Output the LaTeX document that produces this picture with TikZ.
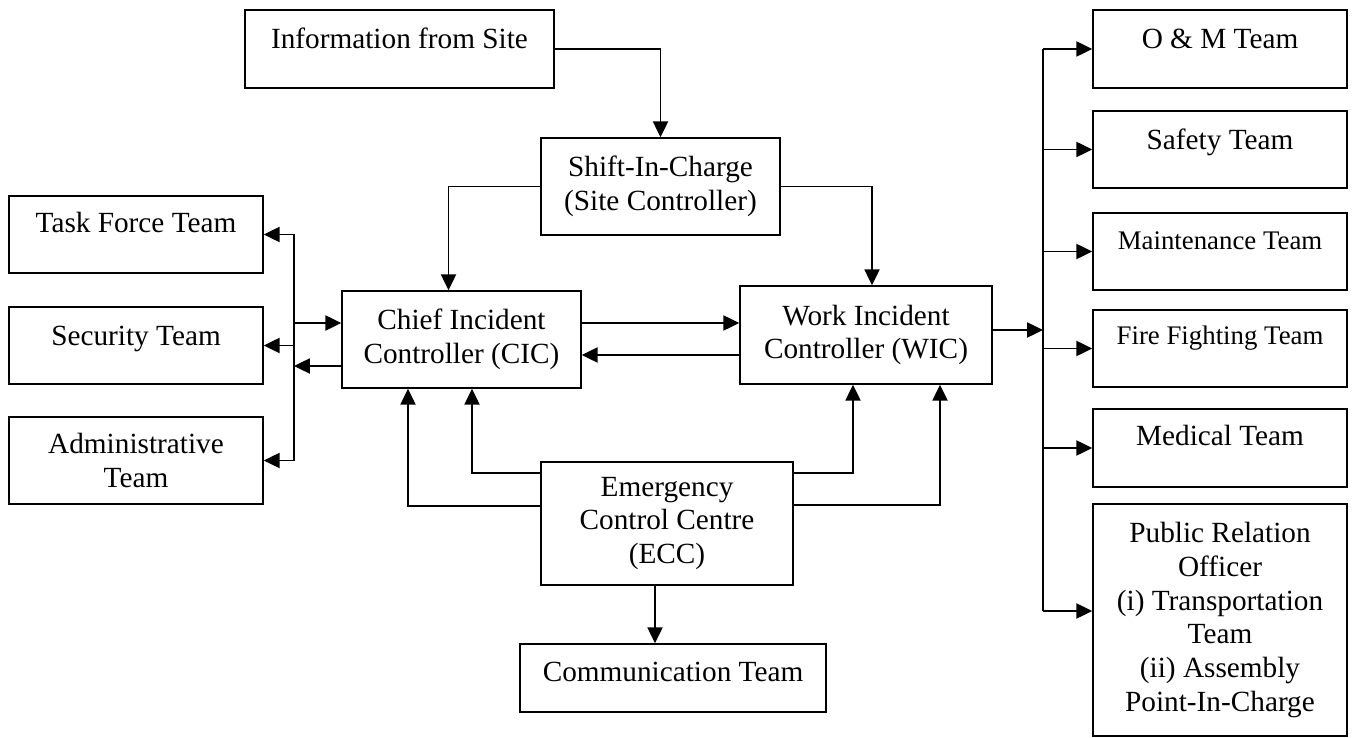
\documentclass[tikz,border=0pt]{standalone}
\usepackage{fontspec}
\setmainfont{Liberation Serif}
\usetikzlibrary{arrows.meta,calc}

\begin{document}
\begin{tikzpicture}[x=0.41pt, y=-0.41pt, line width=0.6pt,
    box/.style={draw, align=center, inner sep=1pt, font=\fontsize{12}{13.9}\selectfont},
    boxsize/.style 2 args={minimum width=#1*0.41pt, minimum height=#2*0.41pt},
    onebox/.style={box, text height=8.5pt, text depth=#1},
    onebox/.default=9pt,
    smallfont/.style={font=\fontsize{11}{13}\selectfont},
    arr/.style={-{Triangle[length=6.5pt,width=6.2pt]}}]
    \useasboundingbox (0,0) rectangle (1355,738);

    % left column
    \node[onebox=10pt, boxsize={254}{77}] (tf) at (136,234.5) {Task Force Team};
    \node[onebox=8.5pt, boxsize={254}{77}] (sec) at (136,345.5) {Security Team};
    \node[box, boxsize={254}{87}] (adm) at (136,460.5) {Administrative\\Team};

    % middle
    \node[onebox, boxsize={309}{78}] (info) at (399.5,49) {Information from Site};
    \node[box, boxsize={239}{97}] (shift) at (660.5,186.5) {Shift-In-Charge\\(Site Controller)};
    \node[box, boxsize={239}{97}] (cic) at (461.5,339.5) {Chief Incident\\Controller (CIC)};
    \node[box, boxsize={252}{98}] (wic) at (866,335) {Work Incident\\Controller (WIC)};
    \node[box, boxsize={252}{123}] (ecc) at (667,523.5) {Emergency\\Control Centre\\(ECC)};
    \node[onebox=5.6pt, boxsize={306}{68}] (comm) at (673,678) {Communication Team};

    % right column
    \node[onebox, boxsize={254}{78}] (om) at (1220,49) {O \& M Team};
    \node[onebox=8.5pt, boxsize={254}{77}] (saf) at (1220,149.5) {Safety Team};
    \node[onebox=10pt, boxsize={254}{77}, smallfont] (mnt) at (1220,251.5) {Maintenance Team};
    \node[onebox=11.5pt, boxsize={254}{77}, smallfont] (ff) at (1220,348.5) {Fire Fighting Team};
    \node[onebox=10.5pt, boxsize={254}{78}] (med) at (1220,448) {Medical Team};
    \node[box, boxsize={254}{232}] (pro) at (1220,620)
        {Public Relation\\Officer\\(i) Transportation\\Team\\(ii) Assembly\\Point-In-Charge};

    % bus lines
    \coordinate (lbus) at (294,0);
    \coordinate (rbus) at (1043,0);

    % top part
    \draw[arr] (info.east) -| (shift.north);
    \draw[arr] (shift.west) -| ($(cic.north)+(-13,0)$);
    \draw[arr] (shift.east) -| ($(wic.north)+(6,0)$);

    % between CIC and WIC
    \draw[arr] ($(cic.east)+(0,-16.5)$) coordinate (a) -- (a -| wic.west);
    \draw[arr] ($(wic.west)+(0,20)$) coordinate (b) -- (b -| cic.east);

    % from ECC
    \draw[arr] ($(ecc.west)+(0,-50.5)$) -| ($(cic.south)+(10.5,0)$);
    \draw[arr] ($(ecc.west)+(0,-17.5)$) -| ($(cic.south)+(-53.5,0)$);
    \draw[arr] ($(ecc.east)+(0,-50.5)$) -| ($(wic.south)+(-13,0)$);
    \draw[arr] ($(ecc.east)+(0,-18.5)$) -| ($(wic.south)+(74,0)$);
    \draw[arr] ($(ecc.south)+(-12,0)$) coordinate (c) -- (c |- comm.north);

    % left side
    \draw (lbus |- tf.east) -- (lbus |- adm.east);
    \foreach \n in {tf,sec,adm}
        \draw[arr] (lbus |- \n.east) -- (\n.east);
    \draw[arr] (lbus |- a) -- (a -| cic.west);
    \draw[arr] ($(cic.west)+(0,26.5)$) coordinate (d) -- (d -| lbus);

    % right side
    \draw[arr] ($(wic.east)+(0,-5)$) coordinate (w) -- (w -| rbus);
    \coordinate (p) at ($(pro.west)+(0,-9)$);
    \draw (rbus |- om.west) -- (rbus |- p);
    \foreach \n in {om,saf,mnt,ff,med}
        \draw[arr] (rbus |- \n.west) -- (\n.west);
    \draw[arr] (rbus |- p) -- (p);

\end{tikzpicture}
\end{document}
